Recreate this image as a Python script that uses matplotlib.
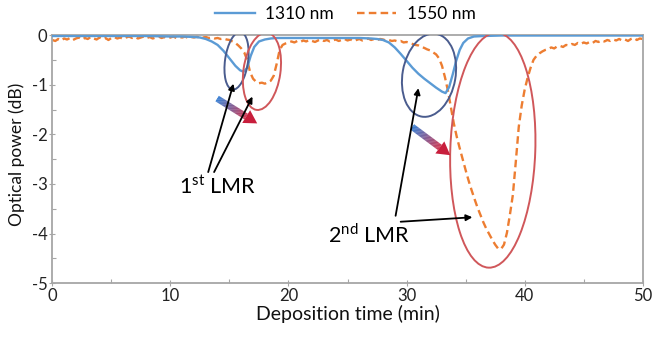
import numpy as np
import matplotlib
matplotlib.use("Agg")
import matplotlib.pyplot as plt
from matplotlib.patches import Ellipse, Polygon
from matplotlib.collections import LineCollection
from matplotlib import transforms as mtransforms
from matplotlib.colors import to_rgb

plt.rcParams["font.family"] = ["Lato", "DejaVu Sans"]
plt.rcParams["mathtext.fontset"] = "custom"
plt.rcParams["mathtext.rm"] = "Lato"
plt.rcParams["axes.unicode_minus"] = False

# 1310 nm trace (time in min, power in dB)
blue_t = [0, 2, 4, 6, 8, 10, 11, 12, 12.5, 13, 13.5, 14, 14.5, 15, 15.5, 15.9,
          16.2, 16.5, 16.8, 17.1, 17.5, 18, 18.5, 19, 20, 22, 24, 26, 27, 27.5, 28, 28.5,
          29, 29.5, 30, 30.5, 31, 31.5, 32, 32.5, 33, 33.3, 33.6, 33.9, 34.2, 34.5, 34.8, 35.2,
          35.7, 36.5, 38, 40, 45, 50]
blue_db = [-0.02, -0.02, -0.02, -0.02, -0.02, -0.03, -0.03, -0.04, -0.05, -0.08, -0.13, -0.2, -0.32, -0.47, -0.62, -0.71,
           -0.74, -0.66, -0.42, -0.24, -0.13, -0.09, -0.07, -0.06, -0.06, -0.06, -0.06, -0.06, -0.07, -0.08, -0.1, -0.15,
           -0.25, -0.38, -0.52, -0.66, -0.78, -0.88, -0.97, -1.06, -1.14, -1.17, -1.05, -0.8, -0.52, -0.3, -0.16, -0.07,
           -0.03, -0.02, -0.01, -0.01, -0.01, -0.01]

# 1550 nm trace, one sample every 0.25 min (each row = 2 min)
orange_step = 0.25
orange_db = [
    -0.10, -0.12, -0.08, -0.11, -0.07, -0.09, -0.06, -0.10,
    -0.07, -0.05, -0.09, -0.06, -0.08, -0.04, -0.07, -0.09,
    -0.05, -0.08, -0.06, -0.10, -0.06, -0.04, -0.07, -0.05,
    -0.08, -0.05, -0.03, -0.06, -0.04, -0.07, -0.05, -0.03,
    -0.06, -0.04, -0.07, -0.05, -0.03, -0.06, -0.04, -0.07,
    -0.05, -0.03, -0.06, -0.04, -0.05, -0.03, -0.06, -0.04,
    -0.05, -0.03, -0.06, -0.05, -0.04, -0.06, -0.05, -0.07,
    -0.06, -0.08, -0.07, -0.09, -0.10, -0.13, -0.16, -0.21,
    -0.27, -0.35, -0.50, -0.75, -0.88, -0.94, -0.97, -0.96,
    -0.98, -0.95, -0.92, -0.82, -0.58, -0.30, -0.20, -0.17,
    -0.15, -0.13, -0.15, -0.12, -0.14, -0.11, -0.13, -0.10,
    -0.12, -0.14, -0.11, -0.09, -0.12, -0.10, -0.13, -0.11,
    -0.09, -0.12, -0.10, -0.08, -0.11, -0.09, -0.12, -0.10,
    -0.08, -0.11, -0.09, -0.07, -0.10, -0.08, -0.10, -0.08,
    -0.09, -0.11, -0.10, -0.12, -0.11, -0.13, -0.12, -0.15,
    -0.14, -0.16, -0.18, -0.20, -0.21, -0.24, -0.26, -0.29,
    -0.31, -0.35, -0.39, -0.47, -0.62, -0.85, -1.12, -1.45,
    -1.78, -2.05, -2.28, -2.50, -2.72, -2.93, -3.12, -3.30,
    -3.47, -3.62, -3.77, -3.90, -4.01, -4.12, -4.22, -4.30,
    -4.31, -4.22, -3.98, -3.62, -3.22, -2.55, -1.85, -1.42,
    -1.10, -0.86, -0.66, -0.50, -0.42, -0.37, -0.33, -0.30,
    -0.28, -0.25, -0.27, -0.23, -0.22, -0.24, -0.20, -0.21,
    -0.18, -0.20, -0.16, -0.18, -0.15, -0.17, -0.14, -0.16,
    -0.12, -0.14, -0.11, -0.13, -0.10, -0.12, -0.09, -0.11,
    -0.08, -0.11, -0.09, -0.12, -0.08, -0.06, -0.10, -0.07,
    -0.08,
]
orange_t = np.arange(len(orange_db)) * orange_step

series_labels = ["1310 nm", "1550 nm"]
x_ticks = [0, 10, 20, 30, 40, 50]
y_ticks = [-5, -4, -3, -2, -1, 0]

BLUE = "#5B9BD5"
ORANGE = "#ED7D31"
AX_GRAY = "#A6A6A6"
RING_BLUE = "#4A5C8E"
RING_RED = "#D0575A"

fig = plt.figure(figsize=(6.54, 3.38), dpi=100)
ax = fig.add_axes([0.080, 0.1618, 0.9028, 0.7346])

ax.plot(blue_t, blue_db, color=BLUE, lw=1.7, label=series_labels[0], zorder=3)
(ol,) = ax.plot(orange_t, orange_db, color=ORANGE, lw=1.7, label=series_labels[1], zorder=2)
ol.set_dashes((3.2, 1.8))

ax.set_xlim(0, 50)
ax.set_ylim(-5, 0)
ax.set_xticks(x_ticks)
ax.set_yticks(y_ticks)
ax.set_xticks(np.arange(5, 50, 10), minor=True)
ax.set_yticks(np.arange(-4.5, 0, 1.0), minor=True)
ax.tick_params(which="major", direction="inout", length=5, width=0.8, color=AX_GRAY,
               labelsize=12, labelcolor="#222222", pad=1)
ax.tick_params(which="minor", direction="in", length=3, width=0.8, color=AX_GRAY)
for s in ax.spines.values():
    s.set_color(AX_GRAY)
    s.set_linewidth(1.3)

ax.set_xlabel("Deposition time (min)", fontsize=14, color="#111111")
ax.set_ylabel("Optical power (dB)", fontsize=12.5, color="#111111")
ax.xaxis.set_label_coords(0.5, -0.088)
ax.yaxis.set_label_coords(-0.047, 0.52)

fig.legend(loc="center", bbox_to_anchor=(0.528, 0.958), ncol=2, frameon=False,
           fontsize=12.5, handlelength=2.3, handletextpad=0.6, columnspacing=1.3)


def ring(center, w_px, h_px, angle, color):
    tr = mtransforms.Affine2D() + mtransforms.ScaledTranslation(center[0], center[1], ax.transData)
    e = Ellipse((0, 0), w_px, h_px, angle=angle, transform=tr, fill=False,
                edgecolor=color, lw=1.4, zorder=4)
    ax.add_patch(e)


ring((15.6, -0.52), 23, 58, -8, RING_BLUE)
ring((17.75, -0.73), 37, 78, -8, RING_RED)
ring((31.9, -0.81), 53, 84, -10, RING_BLUE)
ring((37.3, -2.32), 85, 235, -2, RING_RED)


def gradient_arrow(start, tip, c0="#1A6FD0", c1="#C81E3C", n=40,
                   shaft_px=6.5, head_len=13, head_w=15):
    p0 = ax.transData.transform(start)
    p1 = ax.transData.transform(tip)
    u = (p1 - p0) / np.hypot(*(p1 - p0))
    base = p1 - u * head_len
    f = np.linspace(0, 1, n + 1)
    pts = ax.transData.inverted().transform(p0 + np.outer(f, base - p0))
    segs = np.stack([pts[:-1], pts[1:]], axis=1)
    a, b = np.array(to_rgb(c0)), np.array(to_rgb(c1))
    cols = [a + (b - a) * k for k in (f[:-1] + f[1:]) / 2]
    ax.add_collection(LineCollection(segs, colors=cols, linewidths=shaft_px * 0.72,
                                     capstyle="butt", zorder=5))
    perp = np.array([-u[1], u[0]])
    head = np.array([p1, base + perp * head_w / 2, base - perp * head_w / 2])
    ax.add_patch(Polygon(ax.transData.inverted().transform(head), closed=True,
                         facecolor=c1, edgecolor="none", zorder=5))


gradient_arrow((13.96, -1.28), (17.35, -1.78))
gradient_arrow((30.48, -1.85), (33.7, -2.42))

arrow_kw = dict(arrowstyle="-|>", color="black", lw=1.3, shrinkA=0, shrinkB=0, mutation_scale=9)
ax.annotate("", xy=(15.34, -0.98), xytext=(13.2, -2.76), arrowprops=arrow_kw, zorder=6)
ax.annotate("", xy=(16.95, -1.24), xytext=(13.7, -2.76), arrowprops=arrow_kw, zorder=6)
ax.annotate("", xy=(31.0, -1.07), xytext=(29.07, -3.64), arrowprops=arrow_kw, zorder=6)
ax.annotate("", xy=(35.57, -3.67), xytext=(29.5, -3.76), arrowprops=arrow_kw, zorder=6)

ax.text(13.97, -3.06, r"1$^{\mathrm{st}}$ LMR", fontsize=15.5, ha="center", va="center", zorder=6)
ax.text(26.8, -4.03, r"2$^{\mathrm{nd}}$ LMR", fontsize=15.5, ha="center", va="center", zorder=6)

fig.savefig("out.png", dpi=100)
